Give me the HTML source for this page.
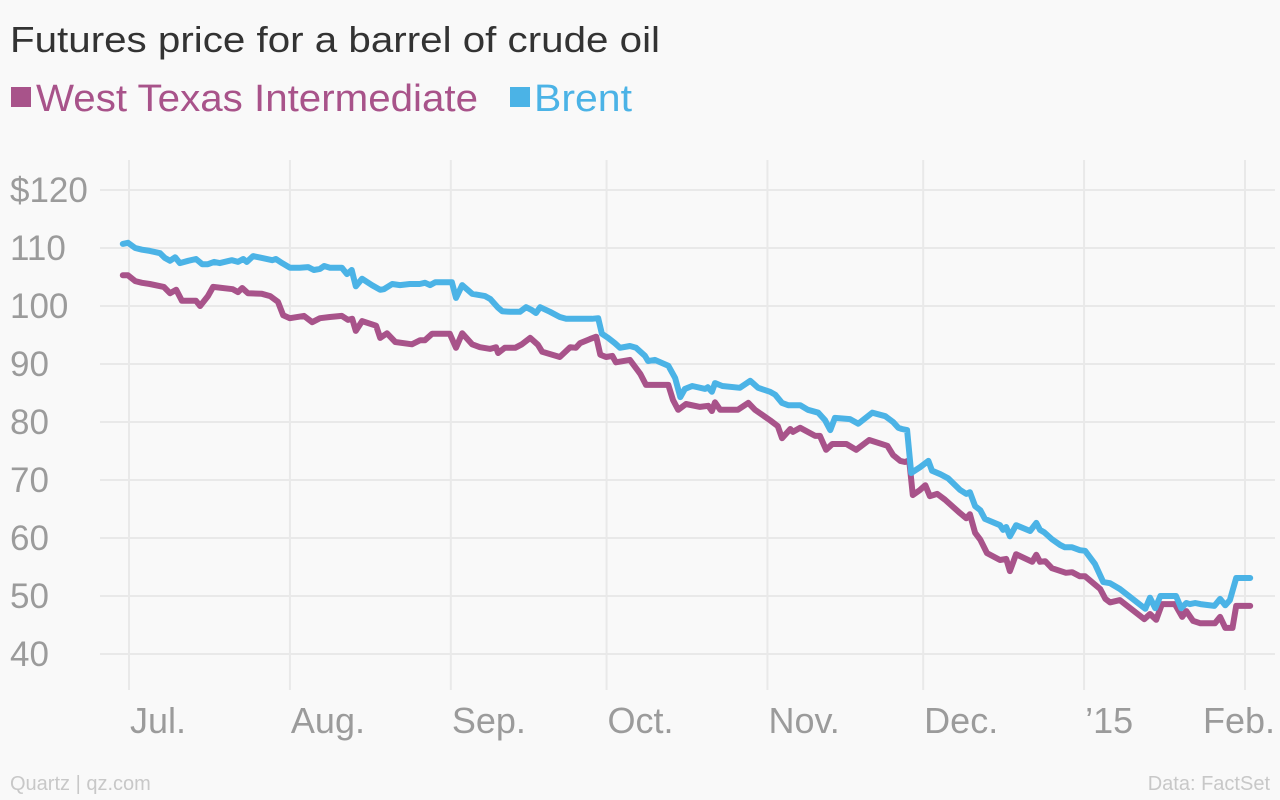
<!DOCTYPE html>
<html><head><meta charset="utf-8"><style>
body{margin:0;background:#f9f9f9;font-family:"Liberation Sans",sans-serif;}
svg{display:block}
</style></head><body>
<svg width="1280" height="800" xmlns="http://www.w3.org/2000/svg">
<rect width="1280" height="800" fill="#f9f9f9"/>
<text x="10" y="52" font-size="36" fill="#333" textLength="650" lengthAdjust="spacingAndGlyphs">Futures price for a barrel of crude oil</text>
<g>
<rect x="11" y="87" width="20" height="20" fill="#a8538a"/>
<text x="36" y="111" font-size="38" fill="#a8538a" textLength="442" lengthAdjust="spacingAndGlyphs">West Texas Intermediate</text>
<rect x="510" y="87" width="20" height="20" fill="#4bb3e6"/>
<text x="534" y="111" font-size="38" fill="#4bb3e6" textLength="98" lengthAdjust="spacingAndGlyphs">Brent</text>
</g>
<g id="grid"></g>
<g id="lines"></g>
<text x="10" y="790" font-size="20" fill="#c8c8c8">Quartz | qz.com</text>
<text x="1270" y="790" font-size="20" fill="#c8c8c8" text-anchor="end">Data: FactSet</text>
</svg>
<script>
const yTicks=[120,110,100,90,80,70,60,50,40];
const yTickLabels=["$120","110","100","90","80","70","60","50","40"];
const monthDays=[0,31,62,92,123,153,184,215];
const monthLabels=["Jul.","Aug.","Sep.","Oct.","Nov.","Dec.","\u201915","Feb."];
const brentDays=[-1.2,-0.2,1.2,2.5,4.0,6.0,6.9,7.9,8.9,9.8,11.4,12.9,14.1,15.2,16.4,17.5,19.8,21.0,22.0,22.7,23.9,25.6,27.6,28.3,29.5,31.0,32.9,34.5,35.6,36.8,37.6,38.7,41.0,42.0,42.9,43.7,44.9,46.8,48.4,49.1,50.7,52.2,54.1,56.0,57.0,58.0,59.0,62.2,63.0,64.2,66.1,68.6,69.6,71.1,71.9,73.4,75.3,76.5,77.6,78.4,79.2,81.1,83.0,84.2,86.9,89.2,90.4,91.1,92.3,93.6,94.6,96.5,97.7,99.4,100.0,101.3,103.9,105.2,106.2,107.1,108.5,111.0,111.5,112.3,112.9,114.3,117.7,119.7,121.2,123.5,124.5,125.8,127.0,127.9,129.3,130.8,132.8,134.1,135.1,136.0,138.9,140.5,143.2,145.7,147.2,148.2,148.9,149.9,150.7,152.4,154.0,154.7,156.3,157.8,160.1,161.3,162.0,163.0,164.0,164.9,167.8,168.4,169.0,169.7,170.9,173.6,174.8,175.5,176.3,177.8,179.4,180.3,181.7,183.2,184.2,186.1,187.7,189.0,190.9,195.8,196.7,197.7,198.7,200.6,201.7,202.7,203.7,204.4,205.4,206.4,209.1,210.2,211.2,212.1,213.3,216.0];
const brentValues=[110.7,110.9,110.0,109.7,109.5,109.1,108.3,107.8,108.4,107.4,107.8,108.1,107.2,107.2,107.6,107.4,107.9,107.6,108.1,107.6,108.6,108.3,107.9,108.1,107.4,106.6,106.6,106.7,106.2,106.4,106.9,106.6,106.6,105.5,106.2,103.4,104.7,103.6,102.8,102.9,103.8,103.6,103.8,103.8,104.0,103.6,104.1,104.1,101.4,103.6,102.1,101.7,101.2,99.7,99.1,99.0,99.0,99.8,99.3,98.8,99.8,99.0,98.1,97.8,97.8,97.8,97.9,95.2,94.5,93.6,92.8,93.1,92.8,91.4,90.5,90.7,89.7,87.6,84.3,85.7,86.2,85.7,86.0,85.2,86.7,86.2,85.9,87.1,85.9,85.2,84.7,83.3,82.9,82.9,82.9,82.1,81.6,80.3,78.6,80.7,80.5,79.7,81.6,81.0,80.0,79.0,78.8,78.6,71.2,72.2,73.3,71.6,71.0,70.3,68.3,67.6,67.9,65.5,64.8,63.3,62.2,61.4,61.9,60.3,62.2,61.2,62.6,61.4,61.0,59.8,58.8,58.4,58.4,57.9,57.8,55.5,52.4,52.2,51.2,47.8,49.7,47.9,50.0,50.0,50.0,47.9,48.8,48.6,48.8,48.6,48.3,49.5,48.4,49.3,53.1,53.1];
const wtiDays=[-1.2,-0.2,1.2,2.5,4.0,6.7,7.9,9.1,10.2,12.9,13.7,15.2,16.2,20.0,21.0,21.8,22.9,25.6,27.2,28.7,29.7,31.0,33.7,35.3,36.8,38.7,41.0,42.2,43.0,43.7,44.9,47.6,48.4,49.7,51.3,54.5,56.1,57.0,58.4,61.8,63.0,64.2,66.1,67.6,69.6,70.7,71.1,72.4,74.4,75.7,77.3,78.8,79.6,83.0,85.0,86.1,86.9,88.8,90.0,90.8,91.9,93.1,93.8,96.5,98.5,99.6,103.9,104.8,105.8,107.3,110.0,111.6,112.3,112.9,113.9,117.3,119.3,120.6,123.5,125.0,125.8,127.4,127.9,129.3,132.2,133.1,134.3,135.5,138.2,140.1,142.6,146.1,147.2,148.6,149.5,150.3,151.0,152.4,153.4,154.3,155.7,157.2,160.1,161.3,162.0,163.0,164.0,165.3,167.8,169.0,169.7,170.9,174.0,174.8,175.5,176.5,177.8,180.5,181.7,183.2,184.2,187.1,188.1,189.0,190.9,195.6,196.7,197.9,199.0,201.5,202.9,203.7,205.0,206.4,209.2,210.2,211.2,212.6,213.3,216.0];
const wtiValues=[105.3,105.3,104.3,104.0,103.8,103.3,102.2,102.8,100.9,100.9,100.0,101.7,103.3,102.9,102.4,103.1,102.2,102.1,101.7,100.7,98.4,97.9,98.3,97.2,97.9,98.1,98.3,97.6,97.8,95.7,97.4,96.6,94.5,95.3,93.8,93.4,94.1,94.1,95.2,95.2,92.8,95.3,93.4,92.9,92.6,92.9,91.9,92.8,92.8,93.4,94.5,93.3,92.1,91.2,92.9,92.8,93.6,94.3,94.7,91.6,91.2,91.4,90.3,90.7,88.3,86.4,86.4,83.8,82.1,83.1,82.6,82.8,81.9,83.4,82.1,82.1,83.3,82.1,80.3,79.3,77.2,78.8,78.3,79.0,77.6,77.6,75.2,76.2,76.2,75.2,76.9,75.9,74.3,73.3,73.1,73.4,67.4,68.3,69.1,67.2,67.6,66.6,64.3,63.4,64.1,60.9,59.7,57.4,56.2,56.4,54.3,57.2,55.9,57.1,55.9,56.0,54.8,54.0,54.1,53.4,53.4,51.2,49.5,48.9,49.3,46.0,46.9,45.9,48.6,48.6,46.4,47.4,45.7,45.3,45.3,46.4,44.5,44.5,48.3,48.3];

const NS="http://www.w3.org/2000/svg";
const xScale=d=>129+d*(1245-129)/215;
const yScale=v=>190+(120-v)*5.8;
const grid=document.getElementById('grid');
const lines=document.getElementById('lines');
function mk(tag,attrs,parent){const e=document.createElementNS(NS,tag);for(const k in attrs)e.setAttribute(k,attrs[k]);parent.appendChild(e);return e;}
yTicks.forEach((v,i)=>{
  const l=mk('line',{x1:100,x2:1275,y1:yScale(v),y2:yScale(v),stroke:'#e9e9e9','stroke-width':2},grid);
  
  
  const t=mk('text',{x:10,y:yScale(v)+12,'font-size':35,fill:'#9b9b9b'},grid);
  t.textContent=yTickLabels[i];
  
  
});
monthDays.forEach((d,i)=>{
  const x=xScale(d);
  const l=mk('line',{x1:x,x2:x,y1:160,y2:690,stroke:'#e9e9e9','stroke-width':2},grid);
  
  
  const last=i===monthDays.length-1;
  const t=mk('text',{x:last?1275:x+1,y:733,'font-size':36,fill:'#9b9b9b','text-anchor':last?'end':'start'},grid);
  t.textContent=monthLabels[i];
  
  
});
function draw(days,vals,color,name){
  const pts=days.map((d,i)=>xScale(d).toFixed(1)+','+yScale(vals[i]).toFixed(1)).join(' ');
  const p=mk('polyline',{points:pts,fill:'none',stroke:color,'stroke-width':6,'stroke-linejoin':'round','stroke-linecap':'round'},lines);
  
  
}
draw(wtiDays,wtiValues,'#a8538a','wti-line');
draw(brentDays,brentValues,'#4bb3e6','brent-line');
</script>
</body></html>
